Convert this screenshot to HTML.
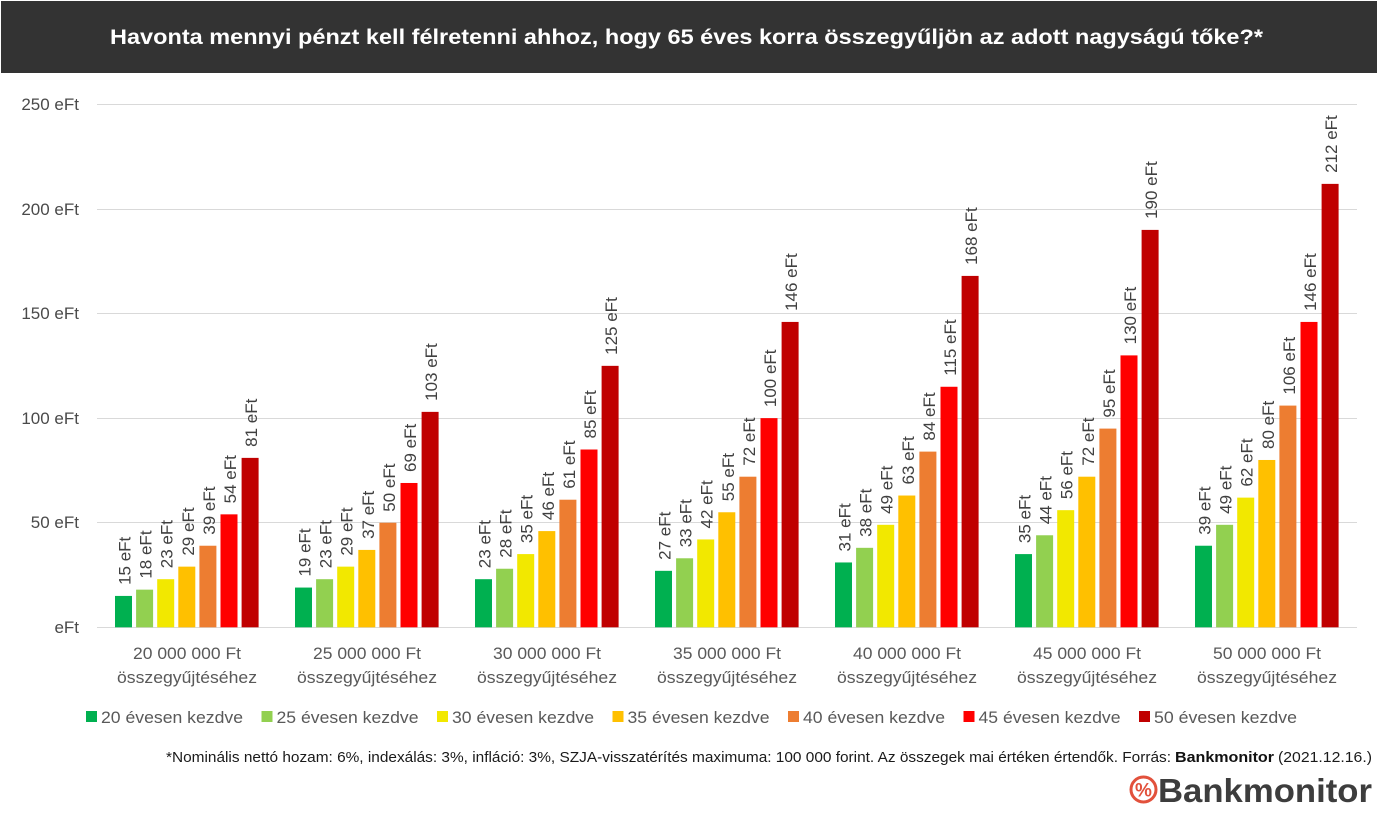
<!DOCTYPE html>
<html>
<head>
<meta charset="utf-8">
<style>
  html, body { margin: 0; padding: 0; background: #ffffff; }
  svg { display: block; }
  text { font-family: "Liberation Sans", "DejaVu Sans", sans-serif; }
</style>
</head>
<body>
<svg width="1377" height="816" viewBox="0 0 1377 816" xmlns="http://www.w3.org/2000/svg">
  <rect x="0" y="0" width="1377" height="816" fill="#ffffff"/>
  <!-- Title bar -->
  <rect x="1" y="1" width="1376" height="72" fill="#333333"/>
  <text x="110" y="44" font-size="21.5" font-weight="bold" fill="#ffffff" textLength="1153" lengthAdjust="spacingAndGlyphs">Havonta mennyi pénzt kell félretenni ahhoz, hogy 65 éves korra összegyűljön az adott nagyságú tőke?*</text>

  <!-- Gridlines -->
  <g stroke="#d9d9d9" stroke-width="1">
    <line x1="97" y1="104.5" x2="1357" y2="104.5"/>
    <line x1="97" y1="209.5" x2="1357" y2="209.5"/>
    <line x1="97" y1="313.5" x2="1357" y2="313.5"/>
    <line x1="97" y1="418.5" x2="1357" y2="418.5"/>
    <line x1="97" y1="522.5" x2="1357" y2="522.5"/>
    <line x1="97" y1="627.5" x2="1357" y2="627.5"/>
  </g>

  <!-- Y labels -->
  <g font-size="17" fill="#4a4a4a" text-anchor="end">
    <text x="79" y="110">250 eFt</text>
    <text x="79" y="215">200 eFt</text>
    <text x="79" y="319">150 eFt</text>
    <text x="79" y="424">100 eFt</text>
    <text x="79" y="528">50 eFt</text>
    <text x="79" y="633">eFt</text>
  </g>

  <!-- Bars + labels -->
  <g id="bars"></g>

  <!-- Category labels -->
  <g font-size="17" fill="#595959" text-anchor="middle">
    <text x="187" y="659" textLength="108" lengthAdjust="spacingAndGlyphs">20 000 000 Ft</text>
    <text x="187" y="683" textLength="140" lengthAdjust="spacingAndGlyphs">összegyűjtéséhez</text>
    <text x="367" y="659" textLength="108" lengthAdjust="spacingAndGlyphs">25 000 000 Ft</text>
    <text x="367" y="683" textLength="140" lengthAdjust="spacingAndGlyphs">összegyűjtéséhez</text>
    <text x="547" y="659" textLength="108" lengthAdjust="spacingAndGlyphs">30 000 000 Ft</text>
    <text x="547" y="683" textLength="140" lengthAdjust="spacingAndGlyphs">összegyűjtéséhez</text>
    <text x="727" y="659" textLength="108" lengthAdjust="spacingAndGlyphs">35 000 000 Ft</text>
    <text x="727" y="683" textLength="140" lengthAdjust="spacingAndGlyphs">összegyűjtéséhez</text>
    <text x="907" y="659" textLength="108" lengthAdjust="spacingAndGlyphs">40 000 000 Ft</text>
    <text x="907" y="683" textLength="140" lengthAdjust="spacingAndGlyphs">összegyűjtéséhez</text>
    <text x="1087" y="659" textLength="108" lengthAdjust="spacingAndGlyphs">45 000 000 Ft</text>
    <text x="1087" y="683" textLength="140" lengthAdjust="spacingAndGlyphs">összegyűjtéséhez</text>
    <text x="1267" y="659" textLength="108" lengthAdjust="spacingAndGlyphs">50 000 000 Ft</text>
    <text x="1267" y="683" textLength="140" lengthAdjust="spacingAndGlyphs">összegyűjtéséhez</text>
  </g>

  <!-- Legend -->
  <g font-size="17" fill="#595959">
    <rect x="86" y="711" width="11" height="11" fill="#00b050"/>
    <text x="101" y="723" textLength="142" lengthAdjust="spacingAndGlyphs">20 évesen kezdve</text>
    <rect x="261.5" y="711" width="11" height="11" fill="#92d050"/>
    <text x="276.5" y="723" textLength="142" lengthAdjust="spacingAndGlyphs">25 évesen kezdve</text>
    <rect x="437" y="711" width="11" height="11" fill="#f2e800"/>
    <text x="452" y="723" textLength="142" lengthAdjust="spacingAndGlyphs">30 évesen kezdve</text>
    <rect x="612.5" y="711" width="11" height="11" fill="#ffc000"/>
    <text x="627.5" y="723" textLength="142" lengthAdjust="spacingAndGlyphs">35 évesen kezdve</text>
    <rect x="788" y="711" width="11" height="11" fill="#ed7d31"/>
    <text x="803" y="723" textLength="142" lengthAdjust="spacingAndGlyphs">40 évesen kezdve</text>
    <rect x="963.5" y="711" width="11" height="11" fill="#ff0000"/>
    <text x="978.5" y="723" textLength="142" lengthAdjust="spacingAndGlyphs">45 évesen kezdve</text>
    <rect x="1139" y="711" width="11" height="11" fill="#c00000"/>
    <text x="1154" y="723" textLength="143" lengthAdjust="spacingAndGlyphs">50 évesen kezdve</text>
  </g>

  <!-- Footnote -->
  <g font-size="15" fill="#1a1a1a">
    <text x="166" y="762" textLength="1005" lengthAdjust="spacingAndGlyphs">*Nominális nettó hozam: 6%, indexálás: 3%, infláció: 3%, SZJA-visszatérítés maximuma: 100 000 forint. Az összegek mai értéken értendők. Forrás:</text>
    <text x="1175" y="762" font-weight="bold" fill="#111111" textLength="99" lengthAdjust="spacingAndGlyphs">Bankmonitor</text>
    <text x="1278" y="762" textLength="94" lengthAdjust="spacingAndGlyphs">(2021.12.16.)</text>
  </g>

  <!-- Logo -->
  <circle cx="1143.5" cy="789.5" r="12.5" fill="none" stroke="#e2513c" stroke-width="3"/>
  <text x="1143.5" y="796.5" font-size="19" font-weight="bold" fill="#e2513c" text-anchor="middle">%</text>
  <text x="1158" y="802" font-size="33" font-weight="bold" fill="#3d3d3d" textLength="214" lengthAdjust="spacingAndGlyphs">Bankmonitor</text>

  <script>
    (function(){
      var data = [
        [15,18,23,29,39,54,81],
        [19,23,29,37,50,69,103],
        [23,28,35,46,61,85,125],
        [27,33,42,55,72,100,146],
        [31,38,49,63,84,115,168],
        [35,44,56,72,95,130,190],
        [39,49,62,80,106,146,212]
      ];
      var colors = ["#00b050","#92d050","#f2e800","#ffc000","#ed7d31","#ff0000","#c00000"];
      var ns = "http://www.w3.org/2000/svg";
      var g = document.getElementById("bars");
      var y0 = 627.3, k = 2.0916;
      for (var gi = 0; gi < 7; gi++) {
        for (var i = 0; i < 7; i++) {
          var v = data[gi][i];
          var x = 115 + 180*gi + 21.1*i;
          var top = y0 - v*k;
          var r = document.createElementNS(ns, "rect");
          r.setAttribute("x", x.toFixed(2));
          r.setAttribute("y", top.toFixed(2));
          r.setAttribute("width", "17");
          r.setAttribute("height", (y0 - top).toFixed(2));
          r.setAttribute("fill", colors[i]);
          g.appendChild(r);
          var t = document.createElementNS(ns, "text");
          var tx = x + 8.5 + 7;
          var ty = top - 11;
          t.setAttribute("x", tx.toFixed(2));
          t.setAttribute("y", ty.toFixed(2));
          t.setAttribute("font-size", "17");
          t.setAttribute("fill", "#404040");
          t.setAttribute("transform", "rotate(-90 " + tx.toFixed(2) + " " + ty.toFixed(2) + ")");
          t.textContent = v + " eFt";
          g.appendChild(t);
        }
      }
    })();
  </script>
</svg>
</body>
</html>
